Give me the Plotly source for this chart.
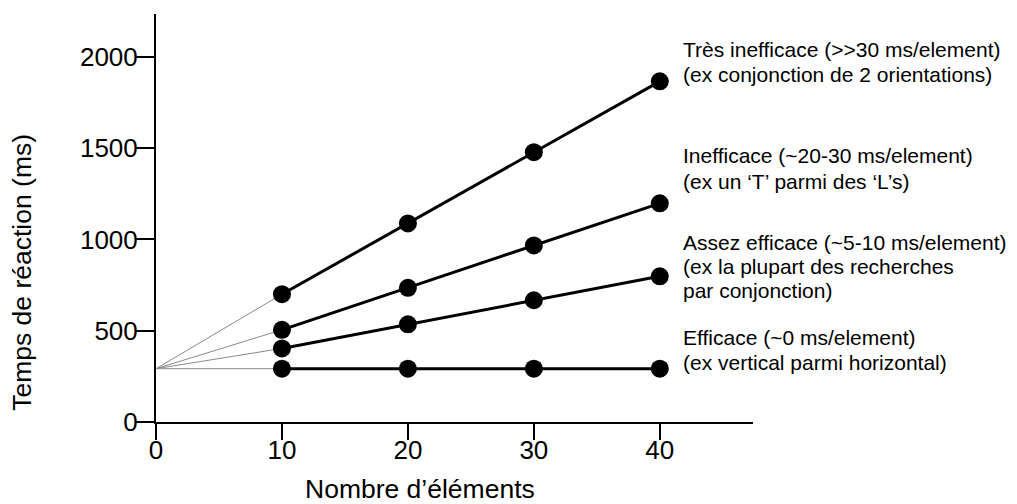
import plotly.graph_objects as go

# ---- data ----
n_elements = [10, 20, 30, 40]
tres_inefficace = [700, 1088, 1478, 1866]
inefficace = [505, 735, 967, 1198]
assez_efficace = [403, 535, 667, 798]
efficace = [292, 292, 292, 292]
intercept = 292

x_ticks = [0, 10, 20, 30, 40]
y_ticks = [0, 500, 1000, 1500, 2000]

labels = [
    ["Très inefficace (>>30 ms/element)", "(ex conjonction de 2 orientations)"],
    ["Inefficace (~20-30 ms/element)", "(ex un ‘T’ parmi des ‘L’s)"],
    ["Assez efficace (~5-10 ms/element)", "(ex la plupart des recherches", "par conjonction)"],
    ["Efficace (~0 ms/element)", "(ex vertical parmi horizontal)"],
]
label_y = [[2038, 1906], [1462, 1319], [985, 853, 721], [464, 328]]

series = [tres_inefficace, inefficace, assez_efficace, efficace]

FONT = "Liberation Sans, Arial, sans-serif"
fig = go.Figure()

# thin lines from common intercept to first point
for s in series:
    fig.add_trace(go.Scatter(x=[0, n_elements[0]], y=[intercept, s[0]], mode="lines",
                             line=dict(color="#8a8a8a", width=1), showlegend=False,
                             hoverinfo="skip"))
for s in series:
    fig.add_trace(go.Scatter(x=n_elements, y=s, mode="lines+markers",
                             line=dict(color="black", width=3),
                             marker=dict(color="black", size=18),
                             showlegend=False, cliponaxis=False))

ann = []
for lines, ys in zip(labels, label_y):
    for t, yy in zip(lines, ys):
        ann.append(dict(x=41.7, y=yy, xref="x", yref="y", text=t, showarrow=False,
                        xanchor="left", yanchor="middle",
                        font=dict(family=FONT, size=21, color="black")))
ann.append(dict(x=-0.2245, y=0.368, xref="paper", yref="paper", text="Temps de réaction (ms)",
                textangle=-90, showarrow=False, xanchor="center", yanchor="middle",
                font=dict(family=FONT, size=26.5, color="black")))
ann.append(dict(x=0.442, y=-0.165, xref="paper", yref="paper", text="Nombre d’éléments",
                showarrow=False, xanchor="center", yanchor="middle",
                font=dict(family=FONT, size=26.5, color="black")))

fig.update_layout(
    width=1009, height=496,
    margin=dict(l=148, r=264, t=6, b=82),
    plot_bgcolor="white", paper_bgcolor="white",
    font=dict(family=FONT, color="black"),
    annotations=ann,
    xaxis=dict(range=[0, 47.4], tickvals=x_ticks, showgrid=False, zeroline=False,
               showline=True, linecolor="black", linewidth=2,
               ticks="outside", ticklen=16, tickwidth=2, tickcolor="black",
               ticklabelstandoff=-12,
               tickfont=dict(family=FONT, size=26, color="black")),
    yaxis=dict(range=[0, 2235], tickvals=y_ticks, showgrid=False, zeroline=False,
               showline=True, linecolor="black", linewidth=2,
               ticks="outside", ticklen=18, tickwidth=2, tickcolor="black",
               ticklabelstandoff=-7,
               tickfont=dict(family=FONT, size=26, color="black")),
)

fig.write_html("out.html")
